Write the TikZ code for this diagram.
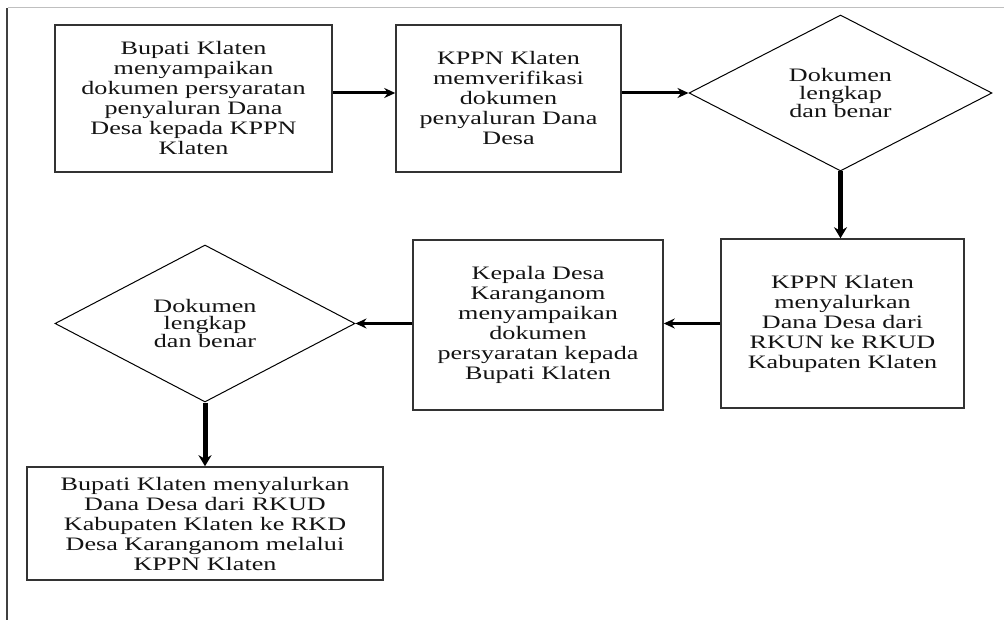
\documentclass[tikz,border=0pt]{standalone}
\usepackage{fontspec}
\setmainfont{Liberation Serif}[FakeStretch=1.375]
\usetikzlibrary{arrows.meta,shapes.geometric}
\begin{document}
\begin{tikzpicture}[x=1pt,y=-1pt,
  box/.style={draw=black!80, line width=1.5pt, rectangle, inner sep=0pt, align=center,
    text=black!92, font=\fontsize{19}{20}\selectfont},
  dec/.style={draw=black, line width=1pt, diamond, inner sep=0pt, align=center,
    text=black!92, font=\fontsize{19}{17.8}\selectfont},
  harr/.style={line width=3pt, -{Stealth[length=11pt,width=10pt]}},
  varr/.style={line width=5pt, -{Stealth[length=11pt,width=13pt]}},
]
\useasboundingbox[fill=white] (0,0) rectangle (1004,620);
\draw[black!25, line width=1pt] (8,8) -- (1004,8);
\draw[black!75, line width=2.5pt] (7,8) -- (7,620);

\node[box, minimum width=277pt, minimum height=147pt] (b1) at (193.5,98.5)
  {Bupati Klaten\\menyampaikan\\dokumen persyaratan\\penyaluran Dana\\Desa kepada KPPN\\Klaten};
\node[box, minimum width=225pt, minimum height=147pt] (b2) at (508.5,98.5)
  {KPPN Klaten\\memverifikasi\\dokumen\\penyaluran Dana\\Desa};
\node[dec, minimum width=303pt, minimum height=156pt] (d1) at (840.5,93)
  {Dokumen\\lengkap\\dan benar};
\node[box, minimum width=243pt, minimum height=169pt] (b4) at (842.5,323.5)
  {KPPN Klaten\\menyalurkan\\Dana Desa dari\\RKUN ke RKUD\\Kabupaten Klaten};
\node[box, minimum width=250pt, minimum height=170pt] (b3) at (538,325)
  {Kepala Desa\\Karanganom\\menyampaikan\\dokumen\\persyaratan kepada\\Bupati Klaten};
\node[dec, minimum width=300pt, minimum height=157pt] (d2) at (205,323.5)
  {Dokumen\\lengkap\\dan benar};
\node[box, minimum width=356pt, minimum height=113pt] (b5) at (205,523.5)
  {Bupati Klaten menyalurkan\\Dana Desa dari RKUD\\Kabupaten Klaten ke RKD\\Desa Karanganom melalui\\KPPN Klaten};

\draw[harr] (b1.east |- d1) -- (b2.west |- d1);
\draw[harr] (b2.east |- d1) -- (d1.west);
\draw[varr] (d1.south) -- (d1.south |- b4.north);
\draw[harr] (b4.west |- d2) -- (b3.east |- d2);
\draw[harr] (b3.west |- d2) -- (d2.east);
\draw[varr] (d2.south) -- (d2.south |- b5.north);
\end{tikzpicture}
\end{document}
